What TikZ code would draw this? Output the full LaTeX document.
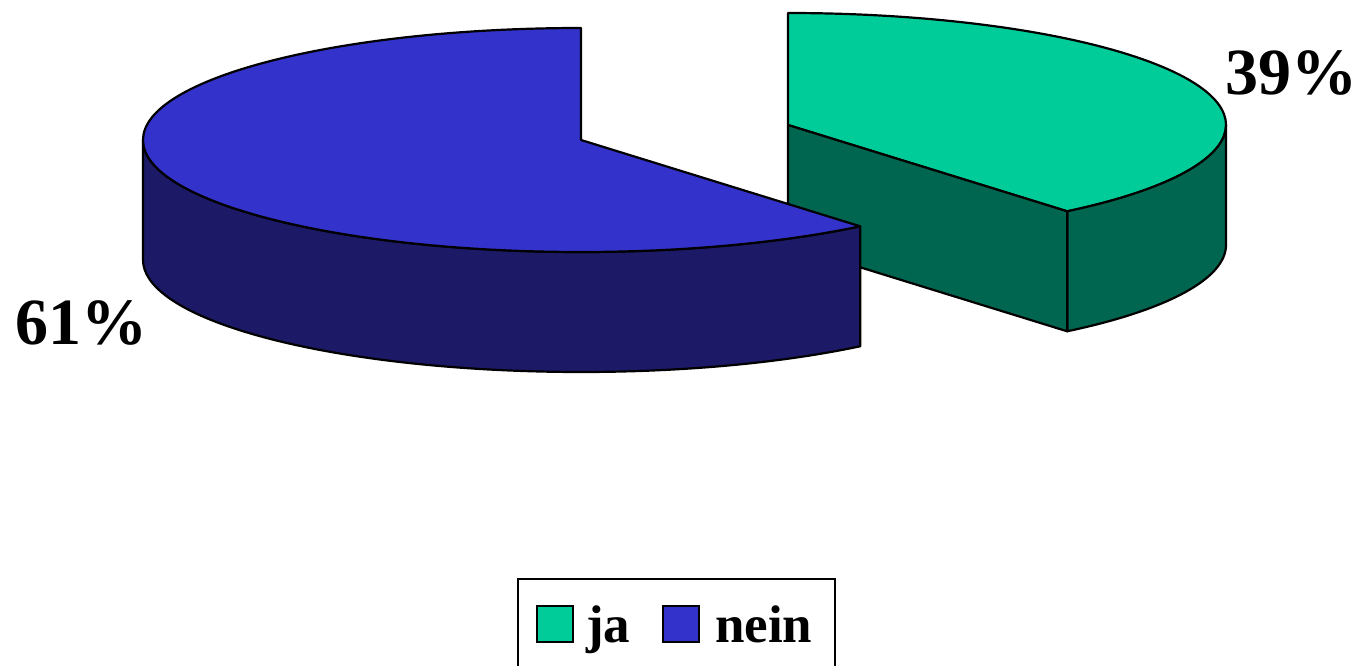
\documentclass[tikz,border=0pt]{standalone}
\usepackage{fontspec}
\setmainfont{Liberation Serif}
\definecolor{jatop}{HTML}{00CC99}
\definecolor{jaside}{HTML}{006650}
\definecolor{neintop}{HTML}{3333CC}
\definecolor{neinside}{HTML}{1C1A66}
\tikzset{
  pieline/.style={draw=black, line width=2.2pt, line join=round},
  ell/.style={x radius=438pt, y radius=112pt},
  pct/.style={font=\fontsize{66}{70}\selectfont\bfseries, inner sep=0pt},
  legtext/.style={font=\fontsize{53}{60}\selectfont\bfseries, inner sep=0pt},
  legbox/.style={draw=black, line width=2pt},
  swatch/.style={draw=black, line width=2pt}
}
\begin{document}
\begin{tikzpicture}[x=1pt,y=1pt]
\useasboundingbox (0,0) rectangle (1358,665);
\coordinate (G) at (788,540);
\coordinate (B) at (581,525);
% green (ja) slice, exploded
\filldraw[pieline, fill=jatop] (G) -- ++(279.2,-86.3) arc[start angle=-50.4, end angle=90, ell] -- cycle;
\filldraw[pieline, fill=jaside] (G) ++(438,0) -- ++(0,-120) arc[start angle=0, end angle=-50.4, ell] -- ++(0,120) arc[start angle=-50.4, end angle=0, ell] -- cycle;
\filldraw[pieline, fill=jaside] (G) -- ++(279.2,-86.3) -- ++(0,-120) -- ++(-279.2,86.3) -- cycle;
% blue (nein) slice
\filldraw[pieline, fill=neinside] (B) ++(-438,0) arc[start angle=180, end angle=309.6, ell] -- ++(0,-120) arc[start angle=309.6, end angle=180, ell] -- cycle;
\filldraw[pieline, fill=neintop] (B) -- ++(0,112) arc[start angle=90, end angle=309.6, ell] -- cycle;
% labels
\node[pct, anchor=base west] (l39) at (1225,570) {39\%};
\node[pct, anchor=base west] (l61) at (15,320) {61\%};
% legend
\draw[legbox] (518,-10) rectangle (835,86);
\filldraw[swatch, fill=jatop] (537,23) rectangle (573,59);
\filldraw[swatch, fill=neintop] (663,23) rectangle (699,59);
\node[legtext, anchor=base west] (lja) at (586,23) {ja};
\node[legtext, anchor=base west] (lnein) at (715,23) {nein};
\end{tikzpicture}
\end{document}
